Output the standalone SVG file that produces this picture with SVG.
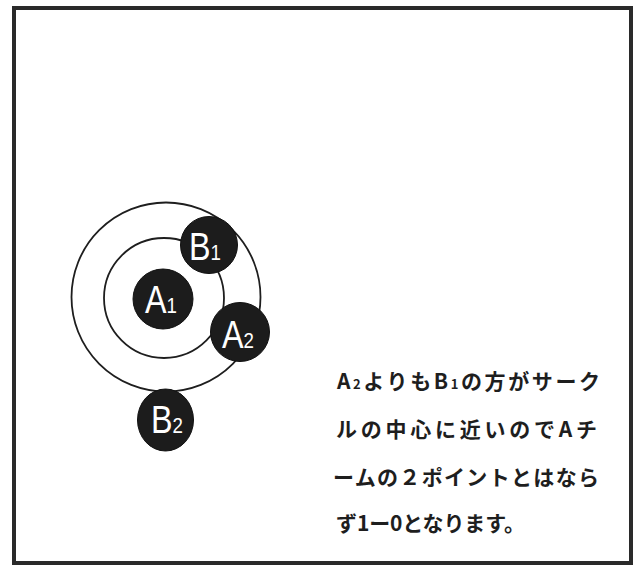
<svg xmlns="http://www.w3.org/2000/svg" width="638" height="571" viewBox="0 0 638 571">
<style>
.frame{fill:#fff;stroke:#2a2a2a;stroke-width:4}
.ring{fill:none;stroke:#1e1e1e;stroke-width:1.8}
.disc{fill:#1c1c1c;stroke:#111;stroke-width:1}
.lab{fill:#fff;font-family:"Liberation Sans","DejaVu Sans",sans-serif;font-size:38px}
.sub{font-size:22px}
.jp{fill:#1e1e1e;font-family:"Noto Sans CJK JP",sans-serif;font-weight:bold;font-size:21px}
.jsub{font-size:13px}
</style>
<rect width="638" height="571" fill="#fff"/>
<rect class="frame" x="14" y="8" width="617" height="555"/>
<g id="rings">
<circle class="ring" cx="166" cy="297" r="94.5"/>
<circle class="ring" cx="164" cy="298" r="60"/>
</g>
<g id="A1"><circle class="disc" cx="163" cy="299" r="30"/><text class="lab" x="145" y="313" transform="translate(145 0) scale(0.85 1) translate(-145 0)">A<tspan class="sub">1</tspan></text></g>
<g id="B1"><circle class="disc" cx="209" cy="245" r="28.5"/><text class="lab" x="189" y="260" transform="translate(189 0) scale(0.85 1) translate(-189 0)">B<tspan class="sub">1</tspan></text></g>
<g id="A2"><circle class="disc" cx="240" cy="332" r="29.5"/><text class="lab" x="222" y="348" transform="translate(222 0) scale(0.85 1) translate(-222 0)">A<tspan class="sub">2</tspan></text></g>
<g id="B2"><ellipse class="disc" cx="165.5" cy="420" rx="28" ry="31"/><text class="lab" x="151" y="433" transform="translate(151 0) scale(0.85 1) translate(-151 0)">B<tspan class="sub">2</tspan></text></g>
<g id="caption">
<text class="jp" x="337" y="389" textLength="263" lengthAdjust="spacing">A<tspan class="jsub">2</tspan>よりもB<tspan class="jsub">1</tspan>の方がサーク</text>
<text class="jp" x="336" y="437" textLength="261" lengthAdjust="spacing">ルの中心に近いのでAチ</text>
<text class="jp" x="333" y="485" textLength="266" lengthAdjust="spacing">ームの２ポイントとはなら</text>
<text class="jp" x="336" y="531" textLength="189" lengthAdjust="spacing">ず1ー0となります。</text>
</g>
</svg>
